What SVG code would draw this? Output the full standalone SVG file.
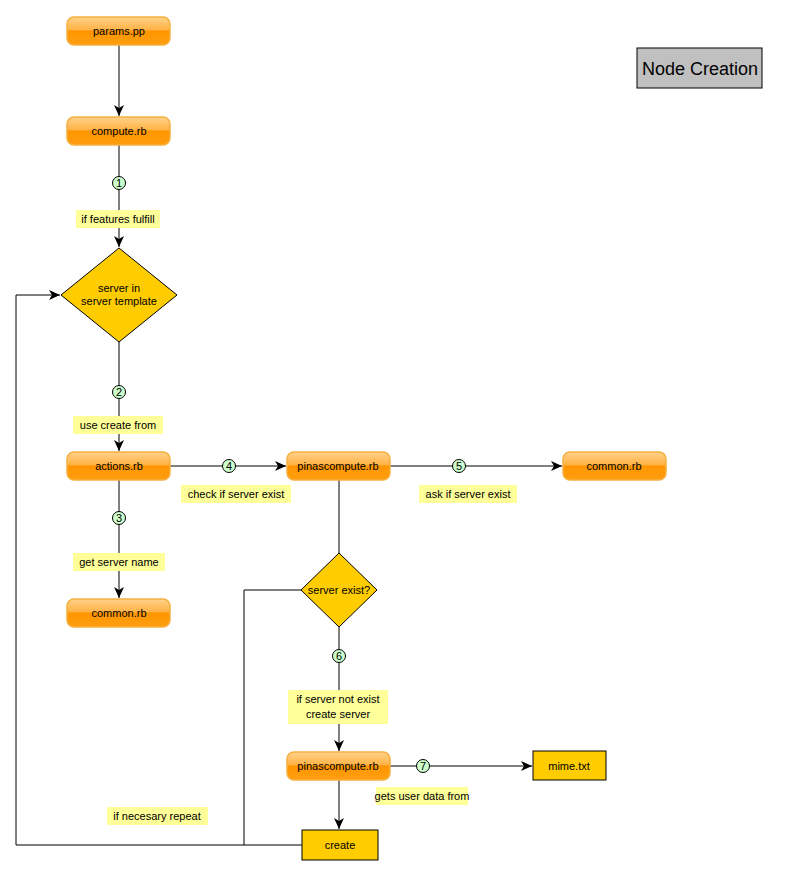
<svg xmlns="http://www.w3.org/2000/svg" width="807" height="876" viewBox="0 0 807 876">
<style>
text{font-family:"Liberation Sans",Arial,sans-serif;font-size:11px;fill:#000;text-anchor:middle}
.b rect.o{fill:url(#og);stroke:#f5b040;stroke-width:1.5}
.lb{fill:#ffff99}
.c{fill:#ccffcc;stroke:#000;stroke-width:1}
.cn line,.cn path{stroke:#000;stroke-width:1;fill:none}
.y{fill:#ffcc00;stroke:#000;stroke-width:1}
</style>
<defs>
<linearGradient id="og" x1="0" y1="0" x2="0" y2="1"><stop offset="0" stop-color="#ffd28a"/><stop offset="0.45" stop-color="#ffb347"/><stop offset="0.5" stop-color="#ff9600"/><stop offset="1" stop-color="#ff9e10"/></linearGradient>
<marker id="a" markerWidth="12" markerHeight="10" refX="11" refY="5" orient="auto" markerUnits="userSpaceOnUse"><path d="M0,0 L11,5 L0,10 L3,5 Z" fill="#000"/></marker>
</defs>
<rect width="807" height="876" fill="#fff"/>
<g class="cn">
<line x1="119" y1="45" x2="119" y2="116" marker-end="url(#a)"/>
<line x1="119" y1="145" x2="119" y2="247" marker-end="url(#a)"/>
<line x1="119" y1="342" x2="119" y2="451" marker-end="url(#a)"/>
<line x1="119" y1="480" x2="119" y2="598" marker-end="url(#a)"/>
<line x1="170" y1="466" x2="286" y2="466" marker-end="url(#a)"/>
<line x1="390" y1="466" x2="562" y2="466" marker-end="url(#a)"/>
<line x1="339" y1="480" x2="339" y2="553"/>
<line x1="339" y1="627" x2="339" y2="751" marker-end="url(#a)"/>
<line x1="390" y1="766" x2="532" y2="766" marker-end="url(#a)"/>
<line x1="339" y1="780" x2="339" y2="829" marker-end="url(#a)"/>
<path d="M302,845 H16 V295 H60" marker-end="url(#a)"/>
<path d="M301,590 H244 V845"/>
</g>
<g id="labels">
<circle class="c" cx="119" cy="183" r="6.5"/><text x="119" y="187">1</text>
<rect class="lb" x="76" y="210" width="84" height="18"/><text x="118" y="223">if features fulfill</text>
<circle class="c" cx="119" cy="392" r="6.5"/><text x="119" y="396">2</text>
<rect class="lb" x="73" y="416" width="90" height="18"/><text x="118" y="429">use create from</text>
<circle class="c" cx="229" cy="466" r="6.5"/><text x="229" y="470">4</text>
<rect class="lb" x="181" y="485" width="110" height="18"/><text x="236" y="498">check if server exist</text>
<circle class="c" cx="459" cy="466" r="6.5"/><text x="459" y="470">5</text>
<rect class="lb" x="419" y="485" width="98" height="18"/><text x="468" y="498">ask if server exist</text>
<circle class="c" cx="119" cy="518" r="6.5"/><text x="119" y="522">3</text>
<rect class="lb" x="73" y="553" width="92" height="18"/><text x="119" y="566">get server name</text>
<circle class="c" cx="339" cy="656" r="6.5"/><text x="339" y="660">6</text>
<rect class="lb" x="288" y="690" width="100" height="34"/><text x="338" y="703">if server not exist</text><text x="338" y="718">create server</text>
<circle class="c" cx="423" cy="766" r="6.5"/><text x="423" y="770">7</text>
<rect class="lb" x="376" y="787" width="92" height="18"/><text x="422" y="800">gets user data from</text>
<rect class="lb" x="107" y="807" width="101" height="18"/><text x="157" y="820">if necesary repeat</text>
</g>
<g id="params" class="b"><rect class="o" x="67" y="17" width="103" height="28" rx="7"/><text x="119" y="35">params.pp</text></g>
<g id="compute" class="b"><rect class="o" x="67" y="117" width="103" height="28" rx="7"/><text x="119" y="135">compute.rb</text></g>
<g id="d1"><polygon class="y" points="119,248 177,295 119,342 61,295"/><text x="119" y="292">server in</text><text x="119" y="305">server template</text></g>
<g id="actions" class="b"><rect class="o" x="67" y="452" width="103" height="28" rx="7"/><text x="119" y="470">actions.rb</text></g>
<g id="pin1" class="b"><rect class="o" x="287" y="452" width="103" height="28" rx="7"/><text x="338" y="470">pinascompute.rb</text></g>
<g id="common1" class="b"><rect class="o" x="563" y="452" width="103" height="28" rx="7"/><text x="614" y="470">common.rb</text></g>
<g id="common2" class="b"><rect class="o" x="67" y="599" width="103" height="28" rx="7"/><text x="119" y="617">common.rb</text></g>
<g id="d2"><polygon class="y" points="339,553 377,590 339,627 301,590"/><text x="339" y="594">server exist?</text></g>
<g id="pin2" class="b"><rect class="o" x="287" y="752" width="103" height="28" rx="7"/><text x="338" y="770">pinascompute.rb</text></g>
<g id="mime"><rect class="y" x="533" y="751" width="73" height="29"/><text x="569" y="770">mime.txt</text></g>
<g id="create"><rect class="y" x="302" y="830" width="76" height="30"/><text x="340" y="849">create</text></g>
<g id="title"><rect x="637" y="48" width="125" height="40" fill="#c0c0c0" stroke="#000"/><text x="700" y="75" style="font-size:18px">Node Creation</text></g>
</svg>
